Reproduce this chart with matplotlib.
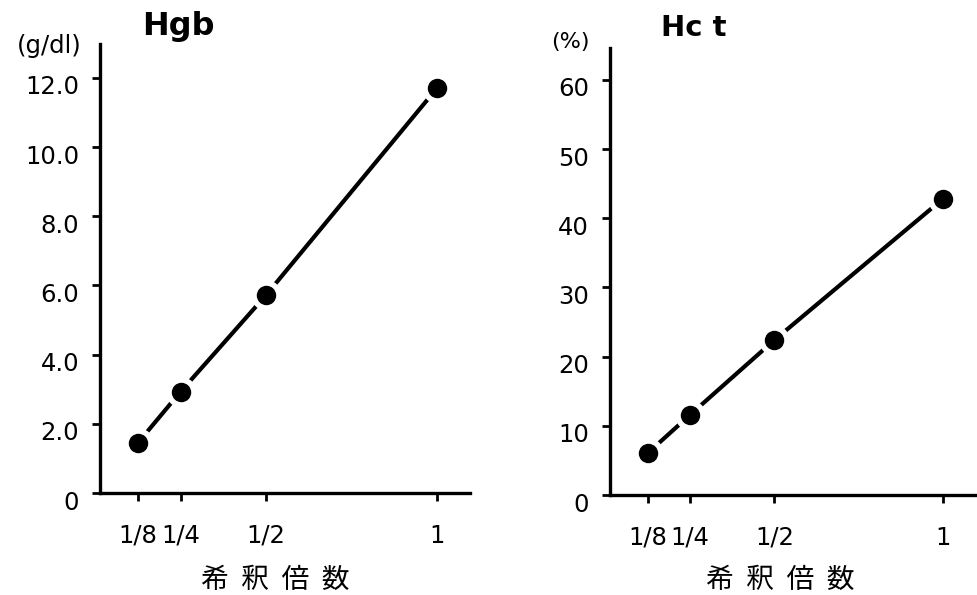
import matplotlib
matplotlib.use("Agg")
import matplotlib.pyplot as plt
import matplotlib.transforms as mtransforms

# ---- data ----
dilution = [0.125, 0.25, 0.5, 1.0]
dilution_labels = ["1/8", "1/4", "1/2", "1"]
hgb_values = [1.45, 2.93, 5.72, 11.7]
hct_values = [6.1, 11.6, 22.4, 42.8]
hgb_yticks = [0, 2, 4, 6, 8, 10, 12]
hgb_yticklabels = ["0", "2.0", "4.0", "6.0", "8.0", "10.0", "12.0"]
hct_yticks = [0, 10, 20, 30, 40, 50, 60]
hct_yticklabels = ["0", "10", "20", "30", "40", "50", "60"]
xlabel_text = "希  釈  倍  数"

W, H = 977, 595
fig = plt.figure(figsize=(W / 100, H / 100), dpi=100)
plt.rcParams['font.family'] = ['DejaVu Sans']

def px_axes(left, top, right, bottom):
    return fig.add_axes([left / W, 1 - bottom / H, (right - left) / W, (bottom - top) / H])

ax1 = px_axes(100, 44, 470, 493)
ax2 = px_axes(610, 48, 977, 495)

def style(ax, x, y, yticks, yticklabels, xlim, ylim):
    ax.plot(x, y, color='black', lw=3.0, zorder=2, solid_capstyle='butt')
    ax.plot(x, y, 'o', color='white', ms=22, mew=0, zorder=3)
    ax.plot(x, y, 'o', color='black', ms=14, mew=0, zorder=4)
    ax.set_xlim(*xlim)
    ax.set_ylim(*ylim)
    for s in ['top', 'right']:
        ax.spines[s].set_visible(False)
    for s in ['left', 'bottom']:
        ax.spines[s].set_linewidth(2.4)
    ax.set_xticks(x)
    ax.set_xticklabels(dilution_labels, fontsize=17.5)
    ax.set_yticks(yticks)
    ax.set_yticklabels(yticklabels, fontsize=17.5)
    ax.tick_params(axis='both', direction='out', length=6, width=2)
    ax.tick_params(axis='y', pad=9)
    ax.tick_params(axis='x', pad=16)
    off = mtransforms.ScaledTranslation(0, -7 / 100, fig.dpi_scale_trans)
    for lbl in ax.get_yticklabels():
        lbl.set_transform(lbl.get_transform() + off)
    ax.set_facecolor('none')

style(ax1, dilution, hgb_values, hgb_yticks, hgb_yticklabels, (0.014, 1.097), (0, 12.98))
style(ax2, dilution, hct_values, hct_yticks, hct_yticklabels, (0.012, 1.101), (0, 64.6))

def ftext(x, y, s, **kw):
    fig.text(x / W, 1 - y / H, s, **kw)

ftext(178, 26, "Hgb", fontsize=23, fontweight='bold', ha='center', va='center')
ftext(694, 28, "Hc t", fontsize=21, fontweight='bold', ha='center', va='center')
ftext(49, 46, "(g/dl)", fontsize=17.5, ha='center', va='center')
ftext(570, 42, "(%)", fontsize=16, ha='center', va='center')
ftext(275, 580, xlabel_text, fontsize=20, ha='center', va='center',
      family=['Noto Sans CJK JP', 'DejaVu Sans'])
ftext(780, 580, xlabel_text, fontsize=20, ha='center', va='center',
      family=['Noto Sans CJK JP', 'DejaVu Sans'])

fig.savefig("out.png", dpi=100)
